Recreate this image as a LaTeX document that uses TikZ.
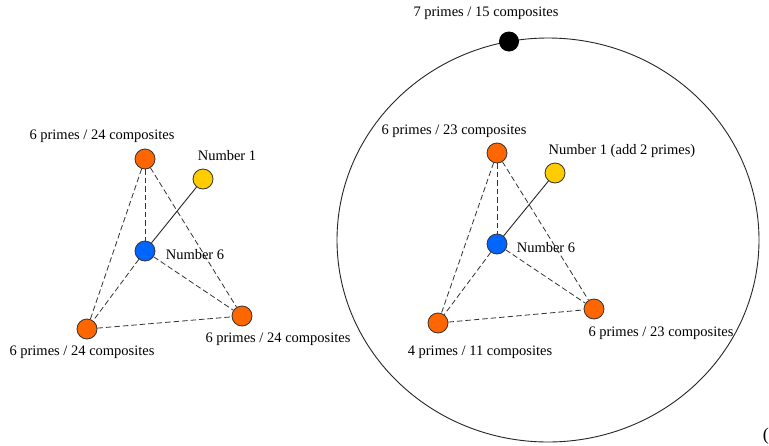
\documentclass[tikz,border=0pt]{standalone}
\usepackage{fontspec}
\setmainfont{Liberation Serif}
\definecolor{dotorange}{HTML}{FF6600}
\definecolor{dotyellow}{HTML}{FFCC00}
\definecolor{dotblue}{HTML}{0066FF}
\begin{document}
\begin{tikzpicture}[x=1pt,y=-1pt,
  dot/.style={circle,draw=black!80,line width=0.8pt,minimum size=20pt,inner sep=0pt},
  odot/.style={dot,fill=dotorange},
  ydot/.style={dot,fill=dotyellow},
  bdot/.style={dot,fill=dotblue},
  kdot/.style={circle,fill=black,minimum size=20pt,inner sep=0pt},
  lbl/.style={font=\fontsize{14.5}{17}\selectfont,inner sep=0pt,anchor=center},
  dashedge/.style={dashed,dash pattern=on 5.5pt off 3pt,line width=0.8pt,black!80},
  solidline/.style={line width=0.9pt,black!85}]
\useasboundingbox (0,0) rectangle (769,445);
\fill[white] (0,0) rectangle (769,445);

% ---------- left diagram ----------
\node[odot] (lt) at (145,159) {};
\node[ydot] (ly) at (203,179) {};
\node[bdot] (lb) at (145,251) {};
\node[odot] (lbotl) at (87,329) {};
\node[odot] (lbotr) at (242,316) {};
\draw[dashedge] (lt) -- (lbotl);
\draw[dashedge] (lt) -- (lb);
\draw[dashedge] (lt) -- (lbotr);
\draw[dashedge] (lb) -- (lbotl);
\draw[dashedge] (lb) -- (lbotr);
\draw[dashedge] (lbotl) -- (lbotr);
\draw[solidline] (ly) -- (lb);
\node[lbl] (tlt) at (102,136) {6 primes / 24 composites};
\node[lbl] (tly) at (227,156) {Number 1};
\node[lbl] (tlb) at (195,255) {Number 6};
\node[lbl] (tlbr) at (278,339) {6 primes / 24 composites};
\node[lbl] (tlbl) at (82,352) {6 primes / 24 composites};

% ---------- right diagram ----------
\draw[line width=0.9pt,black!85] (548,240) ellipse [x radius=211, y radius=202];
\node[kdot] (top) at (509,41.5) {};
\node[lbl] (ttop) at (486,13) {7 primes / 15 composites};

\node[odot] (rt) at (497,153) {};
\node[ydot] (ry) at (555,173) {};
\node[bdot] (rb) at (497,244) {};
\node[odot] (rbotl) at (438,323) {};
\node[odot] (rbotr) at (594,309) {};
\draw[dashedge] (rt) -- (rbotl);
\draw[dashedge] (rt) -- (rb);
\draw[dashedge] (rt) -- (rbotr);
\draw[dashedge] (rb) -- (rbotl);
\draw[dashedge] (rb) -- (rbotr);
\draw[dashedge] (rbotl) -- (rbotr);
\draw[solidline] (ry) -- (rb);
\node[lbl] (trt) at (454,131) {6 primes / 23 composites};
\node[lbl] (try) at (622,151) {Number 1 (add 2 primes)};
\node[lbl] (trb) at (546,248) {Number 6};
\node[lbl] (trbr) at (661,333) {6 primes / 23 composites};
\node[lbl] (trbl) at (480,352) {4 primes / 11 composites};

\node[lbl,anchor=east,font=\fontsize{18}{20}\selectfont] (paren) at (769,436) {(};
\end{tikzpicture}
\end{document}
